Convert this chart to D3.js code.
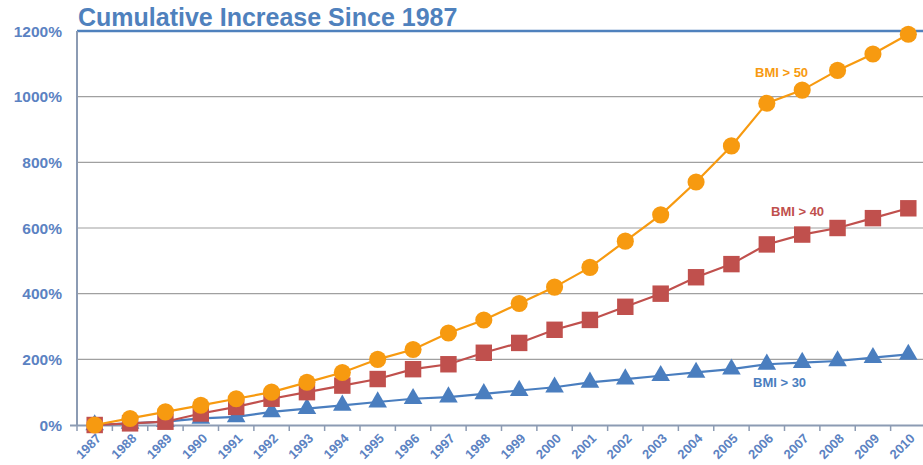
<!DOCTYPE html>
<html><head><meta charset="utf-8">
<script src="https://cdn.jsdelivr.net/npm/d3@7"></script>
<style>html,body{margin:0;padding:0;background:#fff;overflow:hidden}svg{display:block}</style>
</head><body>
<svg id="c" width="923" height="465"></svg>
<script>
const years = ["1987","1988","1989","1990","1991","1992","1993","1994","1995","1996","1997","1998","1999","2000","2001","2002","2003","2004","2005","2006","2007","2008","2009","2010"];
const bmi50 = [0,20,40,60,80,100,130,160,200,230,280,320,370,420,480,560,640,740,850,980,1020,1080,1130,1190];
const bmi40 = [0,5,10,35,55,80,100,120,140,170,185,220,250,290,320,360,400,450,490,550,580,600,630,660];
const bmi30 = [0,5,10,20,25,40,50,60,70,80,85,95,105,115,130,140,150,160,170,185,190,195,205,215];
const yTicks = [0,200,400,600,800,1000,1200];
const title = "Cumulative Increase Since 1987";

const svg = d3.select("#c");
const x = d3.scaleBand().domain(years).range([77, 926]);
const y = d3.scaleLinear().domain([0, 1200]).range([425, 31]);
const cx = d => x(d) + x.bandwidth() / 2;

// gridlines
svg.append("g").selectAll("line").data(yTicks.filter(t => t > 0 && t < 1200)).join("line")
  .attr("x1", 77).attr("x2", 923).attr("y1", d => y(d)).attr("y2", d => y(d))
  .attr("stroke", "#a0a0a0").attr("stroke-width", 1.2);
// top line
svg.append("line").attr("x1", 77).attr("x2", 923).attr("y1", y(1200)).attr("y2", y(1200))
  .attr("stroke", "#4f81bd").attr("stroke-width", 2.5);

// y axis labels
svg.append("g").selectAll("text").data(yTicks).join("text")
  .attr("x", 62).attr("y", d => y(d)).attr("dy", "0.36em")
  .attr("text-anchor", "end").attr("font-family", "Liberation Sans, Arial, sans-serif")
  .attr("font-weight", "bold").attr("font-size", 15.5).attr("fill", "#5b82c2")
  .text(d => d + "%");

// left axis line
svg.append("line").attr("x1", 77).attr("x2", 77).attr("y1", y(1200)).attr("y2", 426)
  .attr("stroke", "#8c9bb3").attr("stroke-width", 2);
// bottom axis
svg.append("line").attr("x1", 70).attr("x2", 923).attr("y1", 425.5).attr("y2", 425.5)
  .attr("stroke", "#8c9bb3").attr("stroke-width", 2);
svg.append("g").selectAll("line").data(years).join("line")
  .attr("x1", d => x(d)).attr("x2", d => x(d)).attr("y1", 425).attr("y2", 431)
  .attr("stroke", "#8c9bb3").attr("stroke-width", 1.5);

// x labels
svg.append("g").selectAll("text").data(years).join("text")
  .attr("transform", d => `translate(${cx(d) + 4},${436}) rotate(-45)`)
  .attr("text-anchor", "end").attr("dy", "0.35em")
  .attr("font-family", "Liberation Sans, Arial, sans-serif")
  .attr("font-weight", "bold").attr("font-size", 13).attr("fill", "#5b82c2")
  .text(d => d);

// title
svg.append("text").attr("x", 78).attr("y", 26)
  .attr("font-family", "Liberation Sans, Arial, sans-serif")
  .attr("font-weight", "bold").attr("font-size", 25).attr("fill", "#4f81bd")
  .text(title);

function series(data, color, shape) {
  const g = svg.append("g");
  const line = d3.line().x((d, i) => cx(years[i])).y(d => y(d));
  g.append("path").datum(data).attr("d", line).attr("fill", "none")
    .attr("stroke", color).attr("stroke-width", 2.2);
  g.selectAll("path.m").data(data).join("path").attr("class", "m")
    .attr("transform", (d, i) => `translate(${cx(years[i])},${y(d)})`)
    .attr("d", d3.symbol().type(shape.type).size(shape.size))
    .attr("fill", color);
}
series(bmi30, "#4a7ebf", {type: d3.symbolTriangle, size: 150});
series(bmi40, "#c0504d", {type: d3.symbolSquare, size: 270});
series(bmi50, "#f79a10", {type: d3.symbolCircle, size: 230});

// series labels
const lab = (t, xx, yy, c) => svg.append("text").attr("x", xx).attr("y", yy).attr("dy", "0.35em")
  .attr("font-family", "Liberation Sans, Arial, sans-serif").attr("font-weight", "bold")
  .attr("font-size", 13).attr("fill", c).text(t);
lab("BMI > 50", 755, 72, "#f79a10");
lab("BMI > 40", 771, 211, "#c0504d");
lab("BMI > 30", 753, 382, "#4a7ebf");
</script>
</body></html>
